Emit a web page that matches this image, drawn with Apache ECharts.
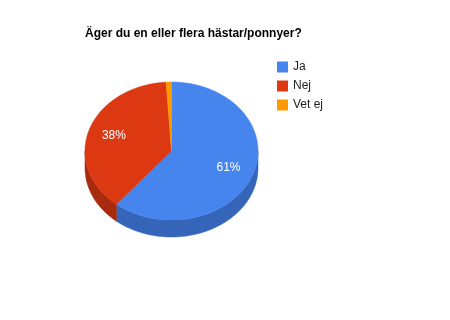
<!DOCTYPE html>
<html>
<head>
<meta charset="utf-8">
<script src="https://cdn.jsdelivr.net/npm/echarts@6/dist/echarts.min.js"></script>
<style>html,body{margin:0;padding:0;background:#fff}#c{width:450px;height:320px}</style>
</head>
<body>
<div id="c"></div>
<script>
var title = 'Äger du en eller flera hästar/ponnyer?';
var categories = ['Ja', 'Nej', 'Vet ej'];
var values = [61, 38, 1];
var topColors = ['#4684EE', '#DC3912', '#FF9900'];
var sideColors = ['#3565B8', '#A82B0E', '#C27400'];

var CX = 171.5, CY = 151, RX = 86.5, RY = 69, DEPTH = 17, LABEL_R = 0.7;
var total = values.reduce(function (a, b) { return a + b; }, 0);

function startOf(i) {
  var s = 0;
  for (var k = 0; k < i; k++) s += values[k];
  return s;
}
function pt(theta, dy) {
  return [CX + RX * Math.sin(theta), CY - RY * Math.cos(theta) + dy];
}
function arc(a, b, dy) {
  var pts = [];
  var n = Math.max(2, Math.ceil(Math.abs(b - a) * 60));
  for (var k = 0; k <= n; k++) pts.push(pt(a + (b - a) * k / n, dy));
  return pts;
}

function renderWall(params, api) {
  var i = params.dataIndex;
  var v = api.value(0);
  var a0 = startOf(i) / total * Math.PI * 2;
  var a1 = a0 + v / total * Math.PI * 2;
  var a = Math.max(a0, Math.PI / 2), b = Math.min(a1, Math.PI * 1.5);
  if (a >= b) return null;
  var pts = arc(a, b, 0).concat(arc(b, a, DEPTH));
  return { type: 'polygon', shape: { points: pts }, style: { fill: sideColors[i], stroke: sideColors[i], lineWidth: 0.5 } };
}

function renderTop(params, api) {
  var i = params.dataIndex;
  var v = api.value(0);
  var a0 = startOf(i) / total * Math.PI * 2;
  var a1 = a0 + v / total * Math.PI * 2;
  var pts = [[CX, CY]].concat(arc(a0, a1, 0));
  var children = [{ type: 'polygon', shape: { points: pts }, style: { fill: topColors[i], stroke: topColors[i], lineWidth: 0.5 } }];
  var pct = Math.round(v / total * 100);
  if (pct >= 5) {
    var mid = (a0 + a1) / 2;
    children.push({
      type: 'text',
      style: {
        x: CX + LABEL_R * RX * Math.sin(mid),
        y: CY - LABEL_R * RY * Math.cos(mid),
        text: pct + '%',
        fill: '#fff',
        font: '12px Arial, "Liberation Sans", sans-serif',
        align: 'center',
        verticalAlign: 'middle'
      },
      z2: 10
    });
  }
  return { type: 'group', children: children };
}

var seriesData = values.map(function (v, i) { return { name: categories[i], value: [v, i] }; });

var chart = echarts.init(document.getElementById('c'), null, { renderer: 'canvas' });
chart.setOption({
  animation: false,
  backgroundColor: '#fff',
  title: {
    text: title,
    left: 85,
    top: 28,
    padding: 0,
    textStyle: { fontFamily: 'Arial, "Liberation Sans", sans-serif', fontSize: 12, fontWeight: 'bold', color: '#000' }
  },
  legend: {
    orient: 'vertical',
    left: 277,
    top: 61,
    padding: 0,
    itemWidth: 11,
    itemHeight: 11,
    itemGap: 7,
    icon: 'rect',
    data: categories,
    textStyle: { fontFamily: 'Arial, "Liberation Sans", sans-serif', fontSize: 12, color: '#222', padding: [0, 0, 0, 0] },
    selectedMode: false
  },
  series: [
    {
      type: 'pie',
      radius: [0, 0],
      center: [CX, CY],
      silent: true,
      label: { show: false },
      labelLine: { show: false },
      data: values.map(function (v, i) { return { name: categories[i], value: v, itemStyle: { color: topColors[i] } }; })
    },
    {
      type: 'custom',
      coordinateSystem: 'none',
      silent: true,
      z: 1,
      renderItem: renderWall,
      data: seriesData
    },
    {
      type: 'custom',
      coordinateSystem: 'none',
      silent: true,
      z: 2,
      renderItem: renderTop,
      data: seriesData
    }
  ]
});
</script>
</body>
</html>
